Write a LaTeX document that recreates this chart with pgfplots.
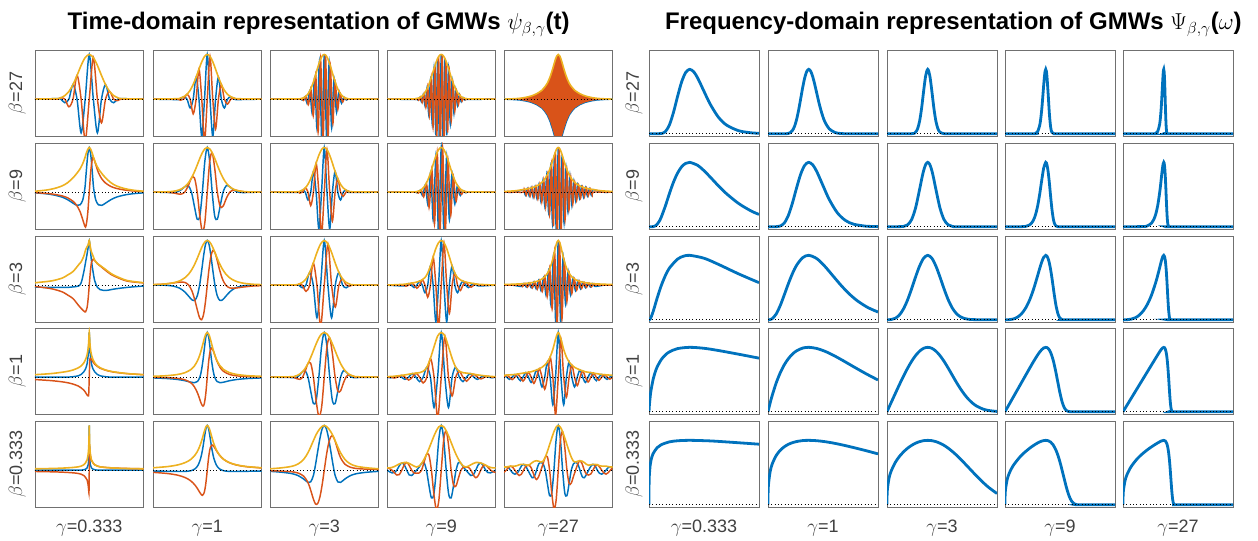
\documentclass[border=0pt]{standalone}
\usepackage{pgfplots}
\pgfplotsset{compat=1.18}
\usepackage{pgfplotstable}
\usepackage{fontspec}
\setmainfont{Liberation Sans}
\definecolor{mblue}{HTML}{0072BD}
\definecolor{morange}{HTML}{D95319}
\definecolor{myellow}{HTML}{EDB120}
\definecolor{frame}{HTML}{707070}
\definecolor{lab}{HTML}{404040}
\pgfplotsset{
  base/.style={scale only axis, anchor=south west, ticks=none, axis line style={draw=frame, line width=0.6pt}, clip=true},
  T/.style={base, width=81.4pt, height=64.5pt, xmin=-1, xmax=1, ymin=-0.825, ymax=1.1},
  F/.style={base, width=82.5pt, height=64.5pt, xmin=0, xmax=2.7, ymin=-0.035, ymax=1.3},
  re/.style={smooth, mblue, line width=1.1pt},
  im/.style={smooth, morange, line width=1.1pt},
  en/.style={smooth, myellow, line width=1.2pt},
  fq/.style={smooth, mblue, line width=2.1pt},
  zl/.style={black, dotted, line width=0.5pt},
}
\newcommand{\tpanel}[3]{%
\begin{axis}[T, at={(#1pt,#2pt)}]
\addplot[re] table[x=t,y=re]{#3};
\addplot[im] table[x=t,y=im]{#3};
\addplot[en] table[x=t,y=A]{#3};
\addplot[zl] coordinates {(-1,0) (1,0)};
\end{axis}}
\newcommand{\fpanel}[3]{%
\begin{axis}[F, at={(#1pt,#2pt)}]
\addplot[fq] coordinates {#3};
\addplot[zl] coordinates {(0,0) (2.7,0)};
\end{axis}}

% ---------------- time-domain data ----------------
\pgfplotstableread{
t A re im
-1 0 0 0
-0.6 0.011 0.011 0
-0.525 0.032 0 0.032
-0.45 0.080 -0.080 0
-0.375 0.172 0 -0.172
-0.3 0.325 0.325 0
-0.225 0.531 0 0.531
-0.15 0.755 -0.755 0
-0.075 0.932 0 -0.932
0 1 1 0
0.075 0.932 0 0.932
0.15 0.755 -0.755 0
0.225 0.531 0 -0.531
0.3 0.325 0.325 0
0.375 0.172 0 0.172
0.45 0.080 -0.080 0
0.525 0.032 0 -0.032
0.6 0.011 0.011 0
1 0 0 0
}\DTaa
\pgfplotstableread{
t A re im
-1 0 0 0
-0.5648 0.0095 -0.0095 0
-0.4973 0.024 0 -0.024
-0.4339 0.054 0.054 0
-0.3732 0.109 0 0.109
-0.3151 0.198 -0.198 0
-0.2596 0.328 0 -0.328
-0.2057 0.491 0.491 0
-0.1531 0.671 0 0.671
-0.1015 0.838 -0.838 0
-0.0506 0.957 0 -0.957
0 1 1 0
0.0506 0.957 0 0.957
0.1015 0.838 -0.838 0
0.1531 0.671 0 -0.671
0.2057 0.491 0.491 0
0.2596 0.328 0 0.328
0.3151 0.198 -0.198 0
0.3732 0.109 0 -0.109
0.4339 0.054 0.054 0
0.4973 0.024 0 0.024
0.5648 0.0095 -0.0095 0
1 0 0 0
}\DTab
\pgfplotstableread{
t A re im
-1 0 0 0
-0.454 0.007 0.007 0
-0.4313 0.012 0 0.012
-0.4086 0.019 -0.019 0
-0.3859 0.029 0 -0.029
-0.3632 0.043 0.043 0
-0.3405 0.063 0 0.063
-0.3178 0.090 -0.090 0
-0.2951 0.126 0 -0.126
-0.2724 0.171 0.171 0
-0.2497 0.227 0 0.227
-0.227 0.293 -0.293 0
-0.2043 0.370 0 -0.370
-0.1816 0.456 0.456 0
-0.1589 0.548 0 0.548
-0.1362 0.643 -0.643 0
-0.1135 0.736 0 -0.736
-0.0908 0.822 0.822 0
-0.0681 0.896 0 0.896
-0.0454 0.952 -0.952 0
-0.0227 0.988 0 -0.988
0 1 1 0
0.0227 0.988 0 0.988
0.0454 0.952 -0.952 0
0.0681 0.896 0 -0.896
0.0908 0.822 0.822 0
0.1135 0.736 0 0.736
0.1362 0.643 -0.643 0
0.1589 0.548 0 -0.548
0.1816 0.456 0.456 0
0.2043 0.370 0 0.370
0.227 0.293 -0.293 0
0.2497 0.227 0 -0.227
0.2724 0.171 0.171 0
0.2951 0.126 0 0.126
0.3178 0.090 -0.090 0
0.3405 0.063 0 -0.063
0.3632 0.043 0.043 0
0.3859 0.029 0 0.029
0.4086 0.019 -0.019 0
0.4313 0.012 0 -0.012
0.454 0.007 0.007 0
1 0 0 0
}\DTac
\pgfplotstableread{
t A re im
-1 0 0 0
-0.5 0.005 -0.005 0
-0.4833 0.007 0 -0.007
-0.4667 0.010 0.010 0
-0.45 0.013 0 0.013
-0.4333 0.018 -0.018 0
-0.4167 0.025 0 -0.025
-0.4 0.033 0.033 0
-0.3833 0.043 0 0.043
-0.3667 0.057 -0.057 0
-0.35 0.073 0 -0.073
-0.3333 0.093 0.093 0
-0.3167 0.118 0 0.118
-0.3 0.146 -0.146 0
-0.2833 0.180 0 -0.180
-0.2667 0.219 0.219 0
-0.25 0.263 0 0.263
-0.2333 0.313 -0.313 0
-0.2167 0.367 0 -0.367
-0.2 0.426 0.426 0
-0.1833 0.488 0 0.488
-0.1667 0.553 -0.553 0
-0.15 0.618 0 -0.618
-0.1333 0.684 0.684 0
-0.1167 0.748 0 0.748
-0.1 0.808 -0.808 0
-0.0833 0.862 0 -0.862
-0.0667 0.909 0.909 0
-0.05 0.948 0 0.948
-0.0333 0.977 -0.977 0
-0.0167 0.994 0 -0.994
0 1 1 0
0.0167 0.994 0 0.994
0.0333 0.977 -0.977 0
0.05 0.948 0 -0.948
0.0667 0.909 0.909 0
0.0833 0.862 0 0.862
0.1 0.808 -0.808 0
0.1167 0.748 0 -0.748
0.1333 0.684 0.684 0
0.15 0.618 0 0.618
0.1667 0.553 -0.553 0
0.1833 0.488 0 -0.488
0.2 0.426 0.426 0
0.2167 0.367 0 0.367
0.2333 0.313 -0.313 0
0.25 0.263 0 -0.263
0.2667 0.219 0.219 0
0.2833 0.180 0 0.180
0.3 0.146 -0.146 0
0.3167 0.118 0 -0.118
0.3333 0.093 0.093 0
0.35 0.073 0 0.073
0.3667 0.057 -0.057 0
0.3833 0.043 0 -0.043
0.4 0.033 0.033 0
0.4167 0.025 0 0.025
0.4333 0.018 -0.018 0
0.45 0.013 0 -0.013
0.4667 0.010 0.010 0
0.4833 0.007 0 0.007
0.5 0.005 -0.005 0
1 0 0 0
}\DTad
\pgfplotstableread{
t A nA
-1 0 0
-0.8 0.01 -0.01
-0.7 0.02 -0.02
-0.6 0.04 -0.04
-0.5 0.07 -0.07
-0.4 0.12 -0.12
-0.3 0.2 -0.2
-0.25 0.27 -0.27
-0.2 0.36 -0.36
-0.15 0.5 -0.5
-0.1 0.69 -0.69
-0.06 0.86 -0.86
-0.03 0.96 -0.96
0 1 -1
0.03 0.96 -0.96
0.06 0.86 -0.86
0.1 0.69 -0.69
0.15 0.5 -0.5
0.2 0.36 -0.36
0.25 0.27 -0.27
0.3 0.2 -0.2
0.4 0.12 -0.12
0.5 0.07 -0.07
0.6 0.04 -0.04
0.7 0.02 -0.02
0.8 0.01 -0.01
1 0 0
}\DTae
\pgfplotstableread{
t A re im
-1 0.02 -0.016 -0.012
-0.8 0.045 -0.036 -0.027
-0.65 0.08 -0.064 -0.048
-0.5 0.14 -0.112 -0.084
-0.4 0.21 -0.168 -0.126
-0.3 0.32 -0.246 -0.204
-0.23 0.42 -0.295 -0.299
-0.17 0.52 -0.284 -0.435
-0.12 0.64 -0.177 -0.615
-0.08 0.77 0.093 -0.765
-0.06 0.85 0.386 -0.757
-0.03 0.95 0.81 -0.497
0 1 1 0
0.03 0.95 0.81 0.497
0.06 0.85 0.386 0.757
0.08 0.77 0.093 0.765
0.12 0.64 -0.177 0.615
0.17 0.52 -0.284 0.435
0.23 0.42 -0.295 0.299
0.3 0.32 -0.246 0.204
0.4 0.21 -0.168 0.126
0.5 0.14 -0.112 0.084
0.65 0.08 -0.064 0.048
0.8 0.045 -0.036 0.027
1 0.02 -0.016 0.012
}\DTba
\pgfplotstableread{
t A re im
-1 0 0 0
-0.7865 0.0049 -0.0049 0
-0.669 0.0134 -0.0095 -0.0095
-0.5714 0.0313 0 -0.0313
-0.4881 0.0646 0.0457 -0.0457
-0.4151 0.120 0.120 0
-0.3502 0.203 0.1435 0.1435
-0.2911 0.315 0 0.315
-0.2367 0.453 -0.320 0.320
-0.1857 0.605 -0.605 0
-0.1372 0.756 -0.535 -0.535
-0.0905 0.883 0 -0.883
-0.0450 0.970 0.686 -0.686
0 1 1 0
0.0450 0.970 0.686 0.686
0.0905 0.883 0 0.883
0.1372 0.756 -0.535 0.535
0.1857 0.605 -0.605 0
0.2367 0.453 -0.320 -0.320
0.2911 0.315 0 -0.315
0.3502 0.203 0.1435 -0.1435
0.4151 0.120 0.120 0
0.4881 0.0646 0.0457 0.0457
0.5714 0.0313 0 0.0313
0.669 0.0134 -0.0095 0.0095
0.7865 0.0049 -0.0049 0
1 0 0 0
}\DTbb
\pgfplotstableread{
t A re im
-1 0 0 0
-0.5 0.008 -0.008 0
-0.45 0.020 0 -0.020
-0.4 0.046 0.046 0
-0.35 0.094 0 0.094
-0.3 0.176 -0.176 0
-0.25 0.299 0 -0.299
-0.2 0.462 0.462 0
-0.15 0.648 0 0.648
-0.1 0.825 -0.825 0
-0.05 0.953 0 -0.953
0 1 1 0
0.05 0.953 0 0.953
0.1 0.825 -0.825 0
0.15 0.648 0 -0.648
0.2 0.462 0.462 0
0.25 0.299 0 0.299
0.3 0.176 -0.176 0
0.35 0.094 0 -0.094
0.4 0.046 0.046 0
0.45 0.020 0 0.020
0.5 0.008 -0.008 0
1 0 0 0
}\DTbc
\pgfplotstableread{
t A re im
-1 0 0 0
-0.5 0.005 0.005 0
-0.475 0.008 0 0.008
-0.45 0.013 -0.013 0
-0.425 0.021 0 -0.021
-0.4 0.033 0.033 0
-0.375 0.050 0 0.050
-0.35 0.073 -0.073 0
-0.325 0.105 0 -0.105
-0.3 0.146 0.146 0
-0.275 0.199 0 0.199
-0.25 0.263 -0.263 0
-0.225 0.339 0 -0.339
-0.2 0.426 0.426 0
-0.175 0.520 0 0.520
-0.15 0.618 -0.618 0
-0.125 0.716 0 -0.716
-0.1 0.808 0.808 0
-0.075 0.887 0 0.887
-0.05 0.948 -0.948 0
-0.025 0.987 0 -0.987
0 1 1 0
0.025 0.987 0 0.987
0.05 0.948 -0.948 0
0.075 0.887 0 -0.887
0.1 0.808 0.808 0
0.125 0.716 0 0.716
0.15 0.618 -0.618 0
0.175 0.520 0 -0.520
0.2 0.426 0.426 0
0.225 0.339 0 0.339
0.25 0.263 -0.263 0
0.275 0.199 0 -0.199
0.3 0.146 0.146 0
0.325 0.105 0 0.105
0.35 0.073 -0.073 0
0.375 0.050 0 -0.050
0.4 0.033 0.033 0
0.425 0.021 0 0.021
0.45 0.013 -0.013 0
0.475 0.008 0 -0.008
0.5 0.005 0.005 0
1 0 0 0
}\DTbd
\pgfplotstableread{
t A re im
-1 0.015 0 0
-0.8 0.03 0 0
-0.6429 0.058 0.058 0
-0.625 0.061 0 0.061
-0.6071 0.065 -0.065 0
-0.5893 0.069 0 -0.069
-0.5714 0.073 0.073 0
-0.5536 0.077 0 0.077
-0.5357 0.082 -0.082 0
-0.5179 0.087 0 -0.087
-0.5 0.093 0.093 0
-0.4821 0.099 0 0.099
-0.4643 0.106 -0.106 0
-0.4464 0.114 0 -0.114
-0.4286 0.122 0.122 0
-0.4107 0.132 0 0.132
-0.3929 0.142 -0.142 0
-0.375 0.154 0 -0.154
-0.3571 0.167 0.167 0
-0.3393 0.182 0 0.182
-0.3214 0.199 -0.199 0
-0.3036 0.217 0 -0.217
-0.2857 0.239 0.239 0
-0.2679 0.263 0 0.263
-0.25 0.291 -0.291 0
-0.2321 0.322 0 -0.322
-0.2143 0.358 0.358 0
-0.1964 0.399 0 0.399
-0.1786 0.445 -0.445 0
-0.1607 0.498 0 -0.498
-0.1429 0.556 0.556 0
-0.125 0.621 0 0.621
-0.1071 0.690 -0.690 0
-0.0893 0.762 0 -0.762
-0.0714 0.834 0.834 0
-0.0536 0.899 0 0.899
-0.0357 0.953 -0.953 0
-0.0179 0.988 0 -0.988
0 1 1 0
0.0179 0.988 0 0.988
0.0357 0.953 -0.953 0
0.0536 0.899 0 -0.899
0.0714 0.834 0.834 0
0.0893 0.762 0 0.762
0.1071 0.690 -0.690 0
0.125 0.621 0 -0.621
0.1429 0.556 0.556 0
0.1607 0.498 0 0.498
0.1786 0.445 -0.445 0
0.1964 0.399 0 -0.399
0.2143 0.358 0.358 0
0.2321 0.322 0 0.322
0.25 0.291 -0.291 0
0.2679 0.263 0 -0.263
0.2857 0.239 0.239 0
0.3036 0.217 0 0.217
0.3214 0.199 -0.199 0
0.3393 0.182 0 -0.182
0.3571 0.167 0.167 0
0.375 0.154 0 0.154
0.3929 0.142 -0.142 0
0.4107 0.132 0 -0.132
0.4286 0.122 0.122 0
0.4464 0.114 0 0.114
0.4643 0.106 -0.106 0
0.4821 0.099 0 -0.099
0.5 0.093 0.093 0
0.5179 0.087 0 0.087
0.5357 0.082 -0.082 0
0.5536 0.077 0 -0.077
0.5714 0.073 0.073 0
0.5893 0.069 0 0.069
0.6071 0.065 -0.065 0
0.625 0.061 0 -0.061
0.6429 0.058 0.058 0
0.8 0.03 0 0
1 0.015 0 0
}\DTbe
\pgfplotstableread{
t A re im
-1 0.054 -0.045 -0.03
-0.7 0.094 -0.05 -0.08
-0.5 0.158 -0.05 -0.15
-0.4 0.226 -0.05 -0.22
-0.3 0.303 -0.04 -0.30
-0.2 0.450 -0.02 -0.45
-0.15 0.522 0.05 -0.52
-0.1 0.652 0.30 -0.58
-0.07 0.781 0.50 -0.60
-0.04 0.860 0.70 -0.50
-0.02 0.901 0.85 -0.30
0 1 1 0
0.02 0.854 0.80 0.30
0.04 0.743 0.55 0.50
0.07 0.653 0.30 0.58
0.1 0.559 0.10 0.55
0.15 0.483 -0.05 0.48
0.2 0.441 -0.10 0.43
0.3 0.351 -0.12 0.33
0.4 0.260 -0.10 0.24
0.5 0.197 -0.08 0.18
0.7 0.103 -0.05 0.09
1 0.054 -0.02 0.05
}\DTca
\pgfplotstableread{
t A re im
-1 0.012 0.002 0.012
-0.824 0.021 0 0.021
-0.6385 0.049 -0.019 0.046
-0.5108 0.095 -0.067 0.067
-0.4159 0.162 -0.150 0.062
-0.3413 0.250 -0.250 0
-0.2801 0.357 -0.330 -0.137
-0.2281 0.478 -0.338 -0.338
-0.1824 0.605 -0.232 -0.559
-0.1414 0.729 0 -0.729
-0.1035 0.839 0.321 -0.775
-0.0679 0.925 0.654 -0.654
-0.0336 0.981 0.906 -0.375
0 1 1 0
0.0336 0.981 0.906 0.375
0.0679 0.925 0.654 0.654
0.1035 0.839 0.321 0.775
0.1414 0.729 0 0.729
0.1824 0.605 -0.232 0.559
0.2281 0.478 -0.338 0.338
0.2801 0.357 -0.330 0.137
0.3413 0.250 -0.250 0
0.4159 0.162 -0.150 -0.062
0.5108 0.095 -0.067 -0.067
0.6385 0.049 -0.019 -0.046
0.824 0.021 0 -0.021
1 0.012 0.002 -0.012
}\DTcb
\pgfplotstableread{
t A re im
-1 0 0 0
-0.54 0.007 0.007 0
-0.4725 0.021 0 0.021
-0.405 0.059 -0.059 0
-0.3375 0.139 0 -0.139
-0.27 0.283 0.283 0
-0.2025 0.492 0 0.492
-0.135 0.730 -0.730 0
-0.0675 0.924 0 -0.924
0 1 1 0
0.0675 0.924 0 0.924
0.135 0.730 -0.730 0
0.2025 0.492 0 -0.492
0.27 0.283 0.283 0
0.3375 0.139 0 0.139
0.405 0.059 -0.059 0
0.4725 0.021 0 -0.021
0.54 0.007 0.007 0
1 0 0 0
}\DTcc
\pgfplotstableread{
t A re im
-1 0 0 0
-0.7 0.018 -0.018 0
-0.65 0.025 0 -0.025
-0.6 0.035 0.035 0
-0.55 0.045 0 0.045
-0.5 0.055 -0.055 0
-0.45 0.07 0 -0.07
-0.4 0.09 0.09 0
-0.35 0.12 0 0.12
-0.3 0.17 -0.17 0
-0.25 0.27 0 -0.27
-0.2 0.43 0.43 0
-0.15 0.63 0 0.63
-0.1 0.82 -0.82 0
-0.05 0.95 0 -0.95
0 1 1 0
0.05 0.95 0 0.95
0.1 0.82 -0.82 0
0.15 0.63 0 -0.63
0.2 0.43 0.43 0
0.25 0.27 0 0.27
0.3 0.17 -0.17 0
0.35 0.12 0 -0.12
0.4 0.09 0.09 0
0.45 0.07 0 0.07
0.5 0.055 -0.055 0
0.55 0.045 0 -0.045
0.6 0.035 0.035 0
0.65 0.025 0 0.025
0.7 0.018 -0.018 0
1 0 0 0
}\DTcd
\pgfplotstableread{
t A re im
-1 0.015 0 0
-0.85 0.02 0 0
-0.681 0.030 -0.030 0
-0.6583 0.032 0 -0.032
-0.6356 0.034 0.034 0
-0.6129 0.037 0 0.037
-0.5902 0.040 -0.040 0
-0.5675 0.043 0 -0.043
-0.5448 0.046 0.046 0
-0.5221 0.050 0 0.050
-0.4994 0.055 -0.055 0
-0.4767 0.060 0 -0.060
-0.454 0.065 0.065 0
-0.4313 0.072 0 0.072
-0.4086 0.079 -0.079 0
-0.3859 0.088 0 -0.088
-0.3632 0.098 0.098 0
-0.3405 0.110 0 0.110
-0.3178 0.125 -0.125 0
-0.2951 0.142 0 -0.142
-0.2724 0.163 0.163 0
-0.2497 0.188 0 0.188
-0.227 0.218 -0.218 0
-0.2043 0.257 0 -0.257
-0.1816 0.304 0.304 0
-0.1589 0.363 0 0.363
-0.1362 0.437 -0.437 0
-0.1135 0.528 0 -0.528
-0.0908 0.636 0.636 0
-0.0681 0.756 0 0.756
-0.0454 0.875 -0.875 0
-0.0227 0.965 0 -0.965
0 1 1 0
0.0227 0.965 0 0.965
0.0454 0.875 -0.875 0
0.0681 0.756 0 -0.756
0.0908 0.636 0.636 0
0.1135 0.528 0 0.528
0.1362 0.437 -0.437 0
0.1589 0.363 0 -0.363
0.1816 0.304 0.304 0
0.2043 0.257 0 0.257
0.227 0.218 -0.218 0
0.2497 0.188 0 -0.188
0.2724 0.163 0.163 0
0.2951 0.142 0 0.142
0.3178 0.125 -0.125 0
0.3405 0.110 0 -0.110
0.3632 0.098 0.098 0
0.3859 0.088 0 0.088
0.4086 0.079 -0.079 0
0.4313 0.072 0 -0.072
0.454 0.065 0.065 0
0.4767 0.060 0 0.060
0.4994 0.055 -0.055 0
0.5221 0.050 0 -0.050
0.5448 0.046 0.046 0
0.5675 0.043 0 0.043
0.5902 0.040 -0.040 0
0.6129 0.037 0 -0.037
0.6356 0.034 0.034 0
0.6583 0.032 0 0.032
0.681 0.030 -0.030 0
0.85 0.02 0 0
1 0.015 0 0
}\DTce
\pgfplotstableread{
t A re im
-1 0.055 0 -0.054
-0.7 0.08 0 -0.078
-0.5 0.11 0 -0.105
-0.4 0.13 0 -0.125
-0.3 0.16 0.01 -0.155
-0.2 0.21 0.03 -0.20
-0.15 0.25 0.06 -0.24
-0.1 0.32 0.12 -0.29
-0.07 0.39 0.18 -0.34
-0.04 0.50 0.30 -0.40
-0.02 0.65 0.50 -0.42
-0.01 0.80 0.70 -0.38
0 1 1 0
0.01 0.80 0.70 0.38
0.02 0.65 0.50 0.42
0.04 0.50 0.30 0.40
0.07 0.39 0.18 0.34
0.1 0.32 0.12 0.29
0.15 0.25 0.06 0.24
0.2 0.21 0.03 0.20
0.3 0.16 0.01 0.155
0.4 0.13 0 0.125
0.5 0.11 0 0.105
0.7 0.08 0 0.078
1 0.055 0 0.054
}\DTda
\pgfplotstableread{
t A re im
-1 0.018 -0.018 -0.005
-0.753 0.032 -0.030 -0.011
-0.548 0.059 -0.052 -0.028
-0.411 0.1 -0.08 -0.06
-0.301 0.171 -0.113 -0.129
-0.237 0.25 -0.125 -0.217
-0.178 0.372 -0.095 -0.359
-0.137 0.5 0 -0.5
-0.1096 0.610 0.134 -0.595
-0.079 0.75 0.375 -0.650
-0.0548 0.862 0.624 -0.595
-0.0274 0.962 0.888 -0.370
0 1 1 0
0.0274 0.962 0.888 0.370
0.0548 0.862 0.624 0.595
0.079 0.75 0.375 0.650
0.1096 0.610 0.134 0.595
0.137 0.5 0 0.5
0.178 0.372 -0.095 0.359
0.237 0.25 -0.125 0.217
0.301 0.171 -0.113 0.129
0.411 0.1 -0.08 0.06
0.548 0.059 -0.052 0.028
0.753 0.032 -0.030 0.011
1 0.018 -0.018 0.005
}\DTdb
\pgfplotstableread{
t A re im
-1 0 0 0
-0.6 0.009 -0.009 0
-0.55 0.019 -0.013 -0.013
-0.5 0.037 0 -0.037
-0.45 0.070 0.0495 -0.0495
-0.4 0.122 0.122 0
-0.35 0.200 0.141 0.141
-0.3 0.306 0 0.306
-0.25 0.440 -0.311 0.311
-0.2 0.591 -0.591 0
-0.15 0.744 -0.526 -0.526
-0.1 0.877 0 -0.877
-0.05 0.968 0.684 -0.684
0 1 1 0
0.05 0.968 0.684 0.684
0.1 0.877 0 0.877
0.15 0.744 -0.526 0.526
0.2 0.591 -0.591 0
0.25 0.440 -0.311 -0.311
0.3 0.306 0 -0.306
0.35 0.200 0.141 -0.141
0.4 0.122 0.122 0
0.45 0.070 0.0495 0.0495
0.5 0.037 0 0.037
0.55 0.019 -0.013 0.013
0.6 0.009 -0.009 0
1 0 0 0
}\DTdc
\pgfplotstableread{
t A re im
-1 0.01 0 0
-0.9333 0.015 -0.015 0
-0.8667 0.02 0 -0.02
-0.8 0.03 0.03 0
-0.7333 0.04 0 0.04
-0.6667 0.05 -0.05 0
-0.6 0.065 0 -0.065
-0.5333 0.08 0.08 0
-0.4667 0.09 0 0.09
-0.4 0.10 -0.10 0
-0.3333 0.13 0 -0.13
-0.2667 0.22 0.22 0
-0.2 0.42 0 0.42
-0.1333 0.68 -0.68 0
-0.0667 0.92 0 -0.92
0 1 1 0
0.0667 0.92 0 0.92
0.1333 0.68 -0.68 0
0.2 0.42 0 -0.42
0.2667 0.22 0.22 0
0.3333 0.13 0 0.13
0.4 0.10 -0.10 0
0.4667 0.09 0 -0.09
0.5333 0.08 0.08 0
0.6 0.065 0 0.065
0.6667 0.05 -0.05 0
0.7333 0.04 0 -0.04
0.8 0.03 0.03 0
0.8667 0.02 0 0.02
0.9333 0.015 -0.015 0
1 0.01 0 0
}\DTdd
\pgfplotstableread{
t A re im
-1 0.04 0.04 0
-0.95 0.045 0 0.045
-0.9 0.05 -0.05 0
-0.85 0.055 0 -0.055
-0.8 0.06 0.06 0
-0.75 0.07 0 0.07
-0.7 0.08 -0.08 0
-0.65 0.09 0 -0.09
-0.6 0.10 0.10 0
-0.55 0.11 0 0.11
-0.5 0.12 -0.12 0
-0.45 0.14 0 -0.14
-0.4 0.16 0.16 0
-0.35 0.19 0 0.19
-0.3 0.22 -0.22 0
-0.25 0.27 0 -0.27
-0.2 0.34 0.34 0
-0.15 0.45 0 0.45
-0.1 0.62 -0.62 0
-0.05 0.85 0 -0.85
0 1 1 0
0.05 0.85 0 0.85
0.1 0.62 -0.62 0
0.15 0.45 0 -0.45
0.2 0.34 0.34 0
0.25 0.27 0 0.27
0.3 0.22 -0.22 0
0.35 0.19 0 -0.19
0.4 0.16 0.16 0
0.45 0.14 0 0.14
0.5 0.12 -0.12 0
0.55 0.11 0 -0.11
0.6 0.10 0.10 0
0.65 0.09 0 0.09
0.7 0.08 -0.08 0
0.75 0.07 0 -0.07
0.8 0.06 0.06 0
0.85 0.055 0 0.055
0.9 0.05 -0.05 0
0.95 0.045 0 -0.045
1 0.04 0.04 0
}\DTde
\pgfplotstableread{
t A re im
-1 0.03 0 -0.03
-0.7 0.037 0 -0.037
-0.5 0.045 0 -0.045
-0.3 0.06 0 -0.06
-0.2 0.075 0 -0.075
-0.15 0.09 0 -0.09
-0.1 0.12 0.01 -0.12
-0.07 0.16 0.02 -0.16
-0.04 0.23 0.05 -0.22
-0.02 0.36 0.12 -0.34
-0.01 0.52 0.25 -0.46
-0.005 0.70 0.50 -0.49
0 1 1 0
0.005 0.70 0.50 0.49
0.01 0.52 0.25 0.46
0.02 0.36 0.12 0.34
0.04 0.23 0.05 0.22
0.07 0.16 0.02 0.16
0.1 0.12 0.01 0.12
0.15 0.09 0 0.09
0.2 0.075 0 0.075
0.3 0.06 0 0.06
0.5 0.045 0 0.045
0.7 0.037 0 0.037
1 0.03 0 0.03
}\DTea
\pgfplotstableread{
t A re im
-1 0.053 -0.020 -0.049
-0.7222 0.081 -0.026 -0.077
-0.5333 0.120 -0.030 -0.116
-0.4 0.173 -0.028 -0.170
-0.3 0.244 -0.012 -0.244
-0.2222 0.342 0.032 -0.341
-0.1667 0.456 0.117 -0.440
-0.1222 0.589 0.262 -0.528
-0.0889 0.719 0.447 -0.563
-0.0556 0.862 0.703 -0.500
-0.0333 0.944 0.874 -0.358
-0.0167 0.985 0.966 -0.194
0 1 1 0
0.0167 0.985 0.966 0.194
0.0333 0.944 0.874 0.358
0.0556 0.862 0.703 0.500
0.0889 0.719 0.447 0.563
0.1222 0.589 0.262 0.528
0.1667 0.456 0.117 0.440
0.2222 0.342 0.032 0.341
0.3 0.244 -0.012 0.244
0.4 0.173 -0.028 0.170
0.5333 0.120 -0.030 0.116
0.7222 0.081 -0.026 0.077
1 0.053 -0.020 0.049
}\DTeb
\pgfplotstableread{
t A re im
-1 0.03 -0.027 -0.013
-0.8 0.05 -0.045 -0.021
-0.6 0.085 -0.077 -0.036
-0.48 0.14 -0.123 -0.066
-0.38 0.24 -0.199 -0.134
-0.3 0.39 -0.274 -0.277
-0.25 0.52 -0.263 -0.449
-0.2 0.66 -0.118 -0.649
-0.16 0.77 0.131 -0.759
-0.12 0.86 0.428 -0.746
-0.08 0.93 0.711 -0.599
-0.04 0.98 0.920 -0.336
0 1 1 0
0.04 0.98 0.920 0.336
0.08 0.93 0.711 0.599
0.12 0.86 0.428 0.746
0.16 0.77 0.131 0.759
0.2 0.66 -0.118 0.649
0.25 0.52 -0.263 0.449
0.3 0.39 -0.274 0.277
0.38 0.24 -0.199 0.134
0.48 0.14 -0.123 0.066
0.6 0.085 -0.077 0.036
0.8 0.05 -0.045 0.021
1 0.03 -0.027 0.013
}\DTec
\pgfplotstableread{
t A re im
-1 0.05 0 0.05
-0.9545 0.05 -0.035 0.035
-0.9091 0.06 -0.06 0
-0.8636 0.08 -0.057 -0.057
-0.8182 0.11 0 -0.11
-0.7727 0.14 0.099 -0.099
-0.7273 0.16 0.16 0
-0.6818 0.17 0.120 0.120
-0.6364 0.17 0 0.17
-0.5909 0.15 -0.106 0.106
-0.5455 0.12 -0.12 0
-0.5 0.09 -0.064 -0.064
-0.4545 0.07 0 -0.07
-0.4091 0.09 0.064 -0.064
-0.3636 0.15 0.15 0
-0.3182 0.24 0.170 0.170
-0.2727 0.35 0 0.35
-0.2273 0.48 -0.339 0.339
-0.1818 0.62 -0.62 0
-0.1364 0.76 -0.537 -0.537
-0.0909 0.88 0 -0.88
-0.0455 0.97 0.686 -0.686
0 1 1 0
0.0455 0.97 0.686 0.686
0.0909 0.88 0 0.88
0.1364 0.76 -0.537 0.537
0.1818 0.62 -0.62 0
0.2273 0.48 -0.339 -0.339
0.2727 0.35 0 -0.35
0.3182 0.24 0.170 -0.170
0.3636 0.15 0.15 0
0.4091 0.09 0.064 0.064
0.4545 0.07 0 0.07
0.5 0.09 -0.064 0.064
0.5455 0.12 -0.12 0
0.5909 0.15 -0.106 -0.106
0.6364 0.17 0 -0.17
0.6818 0.17 0.120 -0.120
0.7273 0.16 0.16 0
0.7727 0.14 0.099 0.099
0.8182 0.11 0 0.11
0.8636 0.08 -0.057 0.057
0.9091 0.06 -0.06 0
0.9545 0.05 -0.035 -0.035
1 0.05 0 -0.05
}\DTed
\pgfplotstableread{
t A re im
-1 0.07 0.049 -0.049
-0.96 0.07 0.07 0
-0.92 0.08 0.057 0.057
-0.88 0.09 0 0.09
-0.84 0.09 -0.064 0.064
-0.8 0.09 -0.09 0
-0.76 0.1 -0.071 -0.071
-0.72 0.12 0 -0.12
-0.68 0.13 0.092 -0.092
-0.64 0.13 0.13 0
-0.6 0.12 0.085 0.085
-0.56 0.11 0 0.11
-0.52 0.13 -0.092 0.092
-0.48 0.17 -0.17 0
-0.44 0.2 -0.141 -0.141
-0.4 0.21 0 -0.21
-0.36 0.2 0.141 -0.141
-0.32 0.18 0.18 0
-0.28 0.2 0.141 0.141
-0.24 0.29 0 0.29
-0.2 0.42 -0.297 0.297
-0.16 0.57 -0.57 0
-0.12 0.72 -0.509 -0.509
-0.08 0.86 0 -0.86
-0.04 0.96 0.679 -0.679
0 1 1 0
0.04 0.96 0.679 0.679
0.08 0.86 0 0.86
0.12 0.72 -0.509 0.509
0.16 0.57 -0.57 0
0.2 0.42 -0.297 -0.297
0.24 0.29 0 -0.29
0.28 0.2 0.141 -0.141
0.32 0.18 0.18 0
0.36 0.2 0.141 0.141
0.4 0.21 0 0.21
0.44 0.2 -0.141 0.141
0.48 0.17 -0.17 0
0.52 0.13 -0.092 -0.092
0.56 0.11 0 -0.11
0.6 0.12 0.085 -0.085
0.64 0.13 0.13 0
0.68 0.13 0.092 0.092
0.72 0.12 0 0.12
0.76 0.1 -0.071 0.071
0.8 0.09 -0.09 0
0.84 0.09 -0.064 -0.064
0.88 0.09 0 -0.09
0.92 0.08 0.057 -0.057
0.96 0.07 0.07 0
1 0.07 0.049 0.049
}\DTee

\begin{document}
\begin{tikzpicture}[x=1pt,y=1pt]
\path[use as bounding box] (0,0) rectangle (943.5,405);

% titles
\node[anchor=base] at (239,382.5) {\fontsize{18}{21}\selectfont\textbf{Time-domain representation of GMWs }$\psi_{\beta,\gamma}$\textbf{(t)}};
\node[anchor=base] at (715,382.5) {\fontsize{18}{21}\selectfont\textbf{Frequency-domain representation of GMWs }$\Psi_{\beta,\gamma}$\textbf{(}$\omega$\textbf{)}};

% ---------------- time-domain panels ----------------
\tpanel{26.25}{303}{\DTaa}
\tpanel{114.75}{303}{\DTab}
\tpanel{202.5}{303}{\DTac}
\tpanel{290.25}{303}{\DTad}
\begin{axis}[T, at={(378pt,303pt)}]
\addplot[mblue, line width=1.1pt] table[x=t,y=nA]{\DTae};
\addplot[fill=morange, draw=none] coordinates {(-1,0) (-0.8,0.01) (-0.7,0.02) (-0.6,0.04) (-0.5,0.07) (-0.4,0.12) (-0.3,0.2) (-0.25,0.27) (-0.2,0.36) (-0.15,0.5) (-0.1,0.69) (-0.06,0.86) (-0.03,0.96) (0,1) (0.03,0.96) (0.06,0.86) (0.1,0.69) (0.15,0.5) (0.2,0.36) (0.25,0.27) (0.3,0.2) (0.4,0.12) (0.5,0.07) (0.6,0.04) (0.7,0.02) (0.8,0.01) (1,0) (0.8,-0.01) (0.7,-0.02) (0.6,-0.04) (0.5,-0.07) (0.4,-0.12) (0.3,-0.2) (0.25,-0.27) (0.2,-0.36) (0.15,-0.5) (0.1,-0.69) (0.06,-0.86) (0.03,-0.96) (0,-1) (-0.03,-0.96) (-0.06,-0.86) (-0.1,-0.69) (-0.15,-0.5) (-0.2,-0.36) (-0.25,-0.27) (-0.3,-0.2) (-0.4,-0.12) (-0.5,-0.07) (-0.6,-0.04) (-0.7,-0.02) (-0.8,-0.01) (-1,0)};
\addplot[en] table[x=t,y=A]{\DTae};
\addplot[zl] coordinates {(-1,0) (1,0)};
\end{axis}

\tpanel{26.25}{233.25}{\DTba}
\tpanel{114.75}{233.25}{\DTbb}
\tpanel{202.5}{233.25}{\DTbc}
\tpanel{290.25}{233.25}{\DTbd}
\tpanel{378}{233.25}{\DTbe}

\tpanel{26.25}{163.5}{\DTca}
\tpanel{114.75}{163.5}{\DTcb}
\tpanel{202.5}{163.5}{\DTcc}
\tpanel{290.25}{163.5}{\DTcd}
\tpanel{378}{163.5}{\DTce}

\tpanel{26.25}{94.5}{\DTda}
\tpanel{114.75}{94.5}{\DTdb}
\tpanel{202.5}{94.5}{\DTdc}
\tpanel{290.25}{94.5}{\DTdd}
\tpanel{378}{94.5}{\DTde}

\tpanel{26.25}{24.75}{\DTea}
\tpanel{114.75}{24.75}{\DTeb}
\tpanel{202.5}{24.75}{\DTec}
\tpanel{290.25}{24.75}{\DTed}
\tpanel{378}{24.75}{\DTee}

% ---------------- frequency-domain panels ----------------
\fpanel{486.75}{303}{(0,0)(0.2,0)(0.3,0.003)(0.4,0.032)(0.5,0.135)(0.6,0.33)(0.7,0.576)(0.8,0.803)(0.9,0.951)(1,1)(1.1,0.960)(1.2,0.859)(1.35,0.658)(1.5,0.462)(1.7,0.260)(1.9,0.136)(2.2,0.047)(2.5,0.015)(2.7,0.007)}
\fpanel{576}{303}{(0,0)(0.4,0)(0.5,0.005)(0.55,0.019)(0.6,0.050)(0.65,0.113)(0.7,0.216)(0.75,0.362)(0.8,0.535)(0.85,0.713)(0.9,0.865)(0.95,0.966)(1,1)(1.05,0.968)(1.1,0.881)(1.15,0.758)(1.2,0.620)(1.25,0.484)(1.3,0.362)(1.35,0.260)(1.4,0.180)(1.5,0.078)(1.65,0.018)(1.8,0.003)(2,0)(2.7,0)}
\fpanel{665.25}{303}{(0,0)(0.6,0.001)(0.7,0.024)(0.75,0.077)(0.8,0.195)(0.85,0.40)(0.9,0.666)(0.95,0.903)(1,1)(1.05,0.904)(1.1,0.667)(1.15,0.401)(1.2,0.196)(1.25,0.078)(1.3,0.025)(1.4,0.001)(1.6,0)(2.7,0)}
\fpanel{753.75}{303}{(0,0)(0.7,0.001)(0.75,0.007)(0.8,0.032)(0.85,0.125)(0.875,0.222)(0.9,0.365)(0.92,0.513)(0.95,0.759)(0.97,0.902)(0.985,0.974)(1,1)(1.015,0.972)(1.03,0.890)(1.06,0.609)(1.09,0.305)(1.12,0.104)(1.15,0.023)(1.2,0.001)(1.4,0)(2.7,0)}
\fpanel{842.25}{303}{(0,0)(0.75,0)(0.8,0.0065)(0.85,0.033)(0.9,0.149)(0.93,0.333)(0.95,0.530)(0.97,0.770)(0.985,0.93)(0.995,0.991)(1,1)(1.01,0.961)(1.02,0.842)(1.03,0.655)(1.04,0.438)(1.05,0.243)(1.06,0.105)(1.07,0.034)(1.08,0.007)(1.1,0)(2.7,0)}

\fpanel{486.75}{233.25}{(0,0)(0.05,0)(0.1,0.002)(0.15,0.012)(0.2,0.038)(0.25,0.083)(0.3,0.148)(0.4,0.319)(0.5,0.513)(0.6,0.691)(0.7,0.832)(0.8,0.930)(0.9,0.984)(1,1)(1.2,0.951)(1.35,0.870)(1.5,0.773)(1.7,0.638)(1.9,0.514)(2.2,0.361)(2.5,0.247)(2.7,0.191)}
\fpanel{576}{233.25}{(0,0)(0.2,0.001)(0.3,0.011)(0.4,0.058)(0.5,0.176)(0.6,0.369)(0.7,0.600)(0.8,0.812)(0.9,0.953)(1,1)(1.1,0.959)(1.2,0.853)(1.35,0.638)(1.5,0.427)(1.7,0.218)(1.9,0.098)(2.1,0.040)(2.4,0.009)(2.7,0.002)}
\fpanel{665.25}{233.25}{(0,0)(0.4,0.004)(0.5,0.027)(0.6,0.106)(0.7,0.289)(0.8,0.580)(0.85,0.737)(0.9,0.873)(0.95,0.967)(1,1)(1.05,0.967)(1.1,0.874)(1.15,0.737)(1.2,0.581)(1.3,0.292)(1.4,0.110)(1.5,0.031)(1.6,0.006)(1.75,0)(2.7,0)}
\fpanel{753.75}{233.25}{(0,0)(0.4,0.001)(0.5,0.005)(0.6,0.027)(0.65,0.055)(0.7,0.105)(0.75,0.189)(0.8,0.319)(0.85,0.499)(0.9,0.715)(0.95,0.912)(1,1)(1.03,0.962)(1.06,0.848)(1.09,0.673)(1.12,0.471)(1.15,0.284)(1.18,0.143)(1.21,0.058)(1.25,0.012)(1.3,0.001)(1.4,0)(2.7,0)}
\fpanel{842.25}{233.25}{(0,0)(0.5,0.003)(0.6,0.014)(0.7,0.056)(0.75,0.105)(0.8,0.187)(0.85,0.322)(0.9,0.530)(0.93,0.693)(0.95,0.809)(0.97,0.916)(0.985,0.976)(1,1)(1.01,0.987)(1.02,0.944)(1.03,0.868)(1.04,0.760)(1.05,0.624)(1.06,0.472)(1.07,0.323)(1.08,0.195)(1.09,0.099)(1.1,0.042)(1.12,0.003)(1.15,0)(2.7,0)}

\fpanel{486.75}{163.5}{(0,0)(0.01,0.001)(0.02,0.006)(0.03,0.013)(0.05,0.037)(0.1,0.124)(0.15,0.229)(0.2,0.336)(0.3,0.529)(0.4,0.683)(0.5,0.801)(0.7,0.941)(0.85,0.987)(1,1)(1.35,0.955)(1.7,0.861)(2.2,0.712)(2.7,0.576)}
\fpanel{576}{163.5}{(0,0)(0.05,0.002)(0.1,0.015)(0.2,0.088)(0.3,0.220)(0.4,0.387)(0.5,0.560)(0.6,0.717)(0.7,0.844)(0.85,0.963)(1,1)(1.2,0.948)(1.4,0.826)(1.6,0.677)(1.8,0.529)(2,0.398)(2.2,0.291)(2.45,0.190)(2.7,0.120)}
\fpanel{665.25}{163.5}{(0,0)(0.1,0.003)(0.2,0.022)(0.3,0.071)(0.4,0.163)(0.5,0.300)(0.6,0.473)(0.7,0.662)(0.8,0.834)(0.9,0.956)(1,1)(1.1,0.956)(1.2,0.834)(1.3,0.664)(1.4,0.480)(1.5,0.314)(1.6,0.185)(1.7,0.098)(1.8,0.047)(1.9,0.020)(2,0.007)(2.2,0.001)(2.7,0)}
\fpanel{753.75}{163.5}{(0,0)(0.1,0.001)(0.2,0.011)(0.3,0.038)(0.4,0.089)(0.5,0.174)(0.6,0.300)(0.7,0.472)(0.8,0.683)(0.85,0.793)(0.9,0.894)(0.95,0.970)(1,1)(1.03,0.987)(1.06,0.946)(1.09,0.876)(1.12,0.778)(1.15,0.657)(1.18,0.523)(1.21,0.387)(1.25,0.227)(1.3,0.090)(1.35,0.024)(1.4,0.004)(1.5,0)(2.7,0)}
\fpanel{842.25}{163.5}{(0,0)(0.1,0.001)(0.2,0.009)(0.3,0.030)(0.4,0.072)(0.5,0.140)(0.6,0.241)(0.7,0.383)(0.8,0.572)(0.85,0.685)(0.9,0.809)(0.95,0.932)(0.98,0.986)(1,1)(1.02,0.981)(1.04,0.912)(1.06,0.779)(1.08,0.579)(1.1,0.346)(1.12,0.147)(1.14,0.036)(1.16,0.004)(1.2,0)(2.7,0)}

\fpanel{486.75}{94.5}{(0,0)(0.0005,0.008)(0.002,0.028)(0.01,0.105)(0.03,0.237)(0.05,0.333)(0.1,0.499)(0.15,0.612)(0.2,0.695)(0.3,0.809)(0.4,0.881)(0.5,0.929)(0.7,0.980)(1,1)(1.35,0.985)(1.7,0.951)(2.2,0.893)(2.7,0.832)}
\fpanel{576}{94.5}{(0,0)(0.05,0.129)(0.1,0.246)(0.2,0.445)(0.3,0.604)(0.4,0.729)(0.5,0.824)(0.6,0.895)(0.7,0.945)(0.85,0.988)(1,1)(1.2,0.982)(1.4,0.938)(1.6,0.878)(1.8,0.809)(2,0.736)(2.2,0.663)(2.45,0.575)(2.7,0.493)}
\fpanel{665.25}{94.5}{(0,0)(0.05,0.070)(0.1,0.140)(0.2,0.278)(0.3,0.415)(0.4,0.546)(0.5,0.669)(0.6,0.779)(0.7,0.871)(0.8,0.941)(0.9,0.985)(1,1)(1.1,0.985)(1.2,0.941)(1.3,0.872)(1.4,0.783)(1.5,0.680)(1.6,0.570)(1.7,0.461)(1.8,0.360)(1.9,0.270)(2,0.194)(2.1,0.134)(2.2,0.088)(2.35,0.043)(2.5,0.019)(2.7,0.005)}
\fpanel{753.75}{94.5}{(0,0)(0.2,0.224)(0.4,0.447)(0.6,0.670)(0.7,0.779)(0.8,0.881)(0.85,0.926)(0.9,0.963)(0.95,0.990)(1,1)(1.03,0.996)(1.06,0.982)(1.09,0.957)(1.12,0.920)(1.15,0.869)(1.18,0.806)(1.21,0.729)(1.25,0.610)(1.3,0.448)(1.35,0.289)(1.4,0.158)(1.45,0.070)(1.5,0.023)(1.55,0.006)(1.6,0.001)(1.7,0)(2.7,0)}
\fpanel{842.25}{94.5}{(0,0)(0.5,0.519)(0.8,0.830)(0.9,0.932)(0.95,0.977)(0.97,0.990)(1,1)(1.02,0.994)(1.04,0.970)(1.06,0.920)(1.08,0.834)(1.1,0.702)(1.12,0.528)(1.14,0.331)(1.16,0.157)(1.18,0.048)(1.2,0.008)(1.22,0)(2.7,0)}

\fpanel{486.75}{24.75}{(0,0)(0.00005,0.096)(0.0005,0.199)(0.002,0.302)(0.005,0.392)(0.01,0.472)(0.03,0.619)(0.05,0.693)(0.1,0.793)(0.2,0.886)(0.3,0.932)(0.5,0.976)(0.7,0.993)(1,1)(1.5,0.991)(2,0.971)(2.7,0.940)}
\fpanel{576}{24.75}{(0,0)(0.0003,0.093)(0.002,0.176)(0.01,0.300)(0.05,0.505)(0.1,0.627)(0.2,0.763)(0.3,0.845)(0.4,0.900)(0.5,0.938)(0.6,0.964)(0.7,0.981)(0.85,0.996)(1,1)(1.2,0.994)(1.4,0.979)(1.6,0.958)(1.8,0.932)(2,0.903)(2.2,0.872)(2.45,0.832)(2.7,0.790)}
\fpanel{665.25}{24.75}{(0,0)(0.001,0.112)(0.01,0.241)(0.05,0.412)(0.1,0.519)(0.2,0.653)(0.3,0.746)(0.4,0.817)(0.5,0.875)(0.6,0.920)(0.7,0.955)(0.8,0.980)(0.9,0.995)(1,1)(1.1,0.995)(1.2,0.980)(1.3,0.955)(1.4,0.922)(1.5,0.879)(1.6,0.829)(1.7,0.773)(1.8,0.711)(1.9,0.646)(2,0.579)(2.1,0.512)(2.2,0.445)(2.35,0.351)(2.5,0.267)(2.7,0.174)}
\fpanel{753.75}{24.75}{(0,0)(0.001,0.104)(0.01,0.224)(0.05,0.382)(0.1,0.482)(0.2,0.607)(0.4,0.765)(0.6,0.875)(0.7,0.920)(0.8,0.959)(0.9,0.988)(1,1)(1.06,0.994)(1.12,0.973)(1.18,0.931)(1.25,0.848)(1.3,0.765)(1.35,0.661)(1.4,0.540)(1.45,0.411)(1.5,0.286)(1.55,0.178)(1.6,0.096)(1.65,0.043)(1.7,0.015)(1.75,0.004)(1.8,0)(2.7,0)}
\fpanel{842.25}{24.75}{(0,0)(0.001,0.101)(0.01,0.218)(0.05,0.373)(0.1,0.470)(0.2,0.592)(0.35,0.714)(0.5,0.804)(0.65,0.877)(0.8,0.940)(0.9,0.977)(0.95,0.992)(1,1)(1.04,0.990)(1.08,0.941)(1.1,0.889)(1.12,0.808)(1.14,0.692)(1.16,0.539)(1.18,0.363)(1.2,0.197)(1.22,0.076)(1.24,0.018)(1.26,0.002)(1.3,0)(2.7,0)}

% ---------------- labels ----------------
\begin{scope}[every node/.style={text=lab, font=\fontsize{13.5}{16}\selectfont}]
\foreach \yy/\lb in {335.25/27, 265.5/9, 195.75/3, 126.75/1, 57/0.333} {
  \node[rotate=90] at (13,\yy) {$\beta$=\lb};
  \node[rotate=90] at (475.5,\yy) {$\beta$=\lb};
}
\foreach \xx/\lb in {66.95/0.333, 155.45/1, 243.2/3, 330.95/9, 418.7/27} {
  \node[anchor=base] at (\xx,6) {$\gamma$=\lb};
}
\foreach \xx/\lb in {528/0.333, 617.25/1, 706.5/3, 795/9, 883.5/27} {
  \node[anchor=base] at (\xx,6) {$\gamma$=\lb};
}
\end{scope}
\end{tikzpicture}
\end{document}
